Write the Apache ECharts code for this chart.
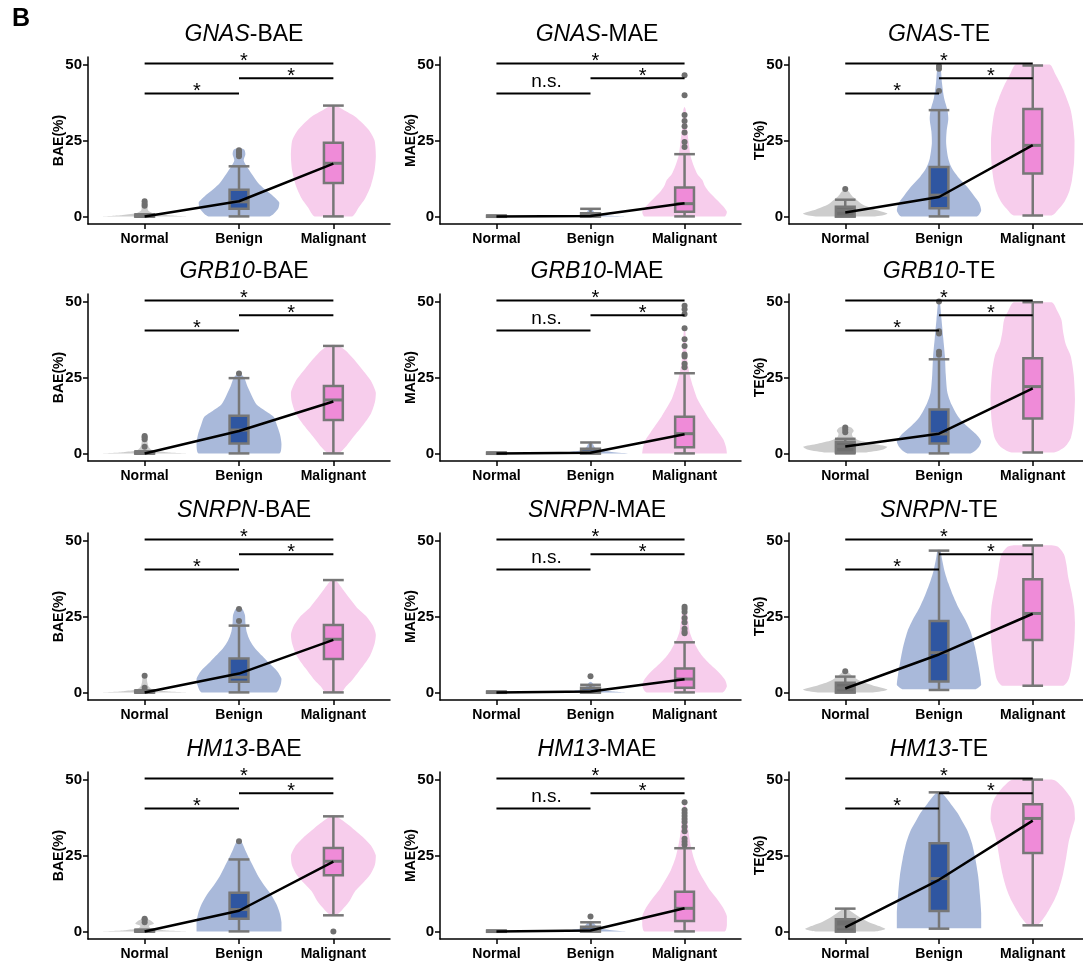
<!DOCTYPE html>
<html>
<head>
<meta charset="utf-8">
<script src="https://cdn.jsdelivr.net/npm/echarts@6/dist/echarts.min.js"></script>
<style>
  html, body { margin: 0; padding: 0; background: #fff; }
  #chart { width: 1083px; height: 965px; }
</style>
</head>
<body>
<div id="chart"></div>
<script>
// 组别 / 基因 / 指标
const groups = ['Normal', 'Benign', 'Malignant'];
const yTicks = [0, 25, 50];
const xTicks = [1, 2, 3];
// 显著性横线: [起点组, 终点组, 高度]
const bracketPairs = [[1, 2, 40.5], [2, 3, 45.5], [1, 3, 50.4]];
const sigBAE = ['*', '*', '*'];
const sigMAE = ['n.s.', '*', '*'];
const sigTE = ['*', '*', '*'];

// 箱线: [min, q1, median, q3, max]，均值，离群点，小提琴轮廓 [y, 相对半宽]
const GNAS_BAE_box = [[0, 0, 0, 0.3, 0.7], [0, 2.5, 4.8, 8.8, 16.5], [0, 11, 17.5, 24.3, 36.5]];
const GNAS_BAE_mean = [0, 5, 17.4];
const GNAS_BAE_out = [[3.5, 4.2, 5], [19.8, 20.5, 21.2, 21.8], []];
const GNAS_BAE_violin = [
  [[0, 1], [0.4, 0.55], [1, 0.2], [2, 0.08], [3.5, 0.07], [5, 0.05], [5.3, 0]],
  [[0, 0.72], [2.5, 0.92], [4.5, 0.95], [6.5, 0.82], [9, 0.6], [11, 0.45], [14, 0.3], [16.5, 0.18], [18.5, 0.11], [20.5, 0.15], [22, 0.12], [22.5, 0]],
  [[0, 0.44], [3, 0.6], [6, 0.75], [10, 0.88], [15, 0.97], [20, 1], [25, 0.97], [28, 0.86], [30.5, 0.7], [33, 0.5], [35, 0.25], [36.5, 0.06], [36.8, 0]]
];

const GNAS_MAE_box = [[0, 0, 0, 0.2, 0.3], [0, 0, 0.3, 1, 2.5], [0, 1.5, 4.2, 9.5, 20.5]];
const GNAS_MAE_mean = [0, 0.1, 4.3];
const GNAS_MAE_out = [[], [], [22.9, 24.5, 27.6, 29.7, 31.4, 33.4, 39.9, 46.5]];
const GNAS_MAE_violin = [
  [[0, 0.2], [0.2, 0.08], [0.4, 0]],
  [[0, 0.8], [0.3, 0.4], [0.8, 0.15], [1.5, 0.08], [2.5, 0.04], [2.8, 0]],
  [[0, 0.95], [1.5, 1], [3.5, 0.9], [5.5, 0.76], [8, 0.58], [10, 0.48], [12, 0.42], [14, 0.3], [16.5, 0.22], [20, 0.14], [24, 0.1], [30, 0.05], [35, 0.03], [36, 0]]
];

const GNAS_TE_box = [[0, 0, 2, 3.2, 5.5], [0, 2.7, 7, 16.3, 35], [0.3, 14.1, 23.4, 35.4, 49.7]];
const GNAS_TE_mean = [1.3, 6.4, 23.5];
const GNAS_TE_out = [[9], [41.3, 48.6, 49.5], []];
const GNAS_TE_violin = [
  [[0, 0.7], [0.9, 1], [2, 0.75], [3, 0.56], [4.2, 0.38], [5.3, 0.28], [6.5, 0.18], [7.5, 0.12], [8.5, 0.06], [9, 0]],
  [[0, 0.9], [2, 1], [4.5, 0.95], [7, 0.82], [10, 0.65], [13, 0.45], [16, 0.3], [19, 0.22], [24, 0.17], [28, 0.18], [32, 0.22], [35, 0.2], [39, 0.12], [44, 0.07], [49, 0.04], [50, 0]],
  [[0.3, 0.45], [2.5, 0.62], [5, 0.76], [8, 0.86], [12, 0.93], [18, 0.98], [25, 0.99], [31, 0.95], [35, 0.9], [39, 0.8], [43, 0.68], [47, 0.53], [50, 0.4]]
];

const GRB10_BAE_box = [[0, 0, 0, 0.3, 0.7], [0, 3.3, 7.7, 12.4, 24.8], [0, 11, 17.6, 22.2, 35.4]];
const GRB10_BAE_mean = [0, 7.4, 17.1];
const GRB10_BAE_out = [[2.2, 4.7, 5.3, 5.7], [26.3], []];
const GRB10_BAE_violin = [
  [[0, 1], [0.4, 0.5], [1, 0.18], [2, 0.1], [3.5, 0.07], [5, 0.06], [6, 0.03], [6.3, 0]],
  [[0, 0.95], [3, 1], [6, 0.97], [9, 0.9], [12, 0.82], [14, 0.62], [16, 0.42], [19, 0.3], [22, 0.2], [25, 0.12], [26.5, 0]],
  [[0, 0.12], [2, 0.28], [4.5, 0.42], [9, 0.68], [13, 0.88], [17, 0.98], [20, 1], [24, 0.88], [28, 0.66], [31.5, 0.45], [34, 0.28], [35.5, 0.1], [35.8, 0]]
];

const GRB10_MAE_box = [[0, 0, 0, 0.2, 0.3], [0, 0, 0.5, 1.5, 3.6], [0, 2, 6.5, 12.1, 26.4]];
const GRB10_MAE_mean = [0, 0.2, 6.3];
const GRB10_MAE_out = [[], [], [28.4, 29.5, 31.9, 32.6, 35.4, 37.6, 41.2, 45.9, 47.5, 48.6]];
const GRB10_MAE_violin = [
  [[0, 0.2], [0.2, 0.08], [0.4, 0]],
  [[0, 0.9], [0.5, 0.5], [1, 0.2], [2, 0.1], [3, 0.06], [4, 0]],
  [[0, 1], [2, 0.98], [4.5, 0.92], [7, 0.8], [9, 0.7], [12, 0.55], [15, 0.42], [18, 0.3], [22, 0.2], [26, 0.12], [30, 0.07], [35, 0.04], [40, 0.02], [42, 0]]
];

const GRB10_TE_box = [[0, 0.3, 2.3, 3.8, 4.8], [0, 3.3, 6.4, 14.5, 31], [0.3, 11.5, 22, 31.3, 49.8]];
const GRB10_TE_mean = [2.3, 6.5, 21.4];
const GRB10_TE_out = [[7, 7.8, 8.5], [32.5, 33.5, 39.5, 40.2, 50], []];
const GRB10_TE_violin = [
  [[0.3, 0.45], [1.3, 0.9], [2.2, 1], [3.2, 0.65], [4.3, 0.32], [5.5, 0.18], [6.5, 0.16], [7.5, 0.2], [8.5, 0.14], [9, 0]],
  [[0, 0.75], [2, 0.94], [4, 1], [6, 0.9], [9, 0.66], [12, 0.46], [16, 0.3], [20, 0.2], [26, 0.16], [32, 0.14], [38, 0.1], [44, 0.06], [50, 0.02], [50.5, 0]],
  [[0.3, 0.5], [2, 0.75], [5, 0.9], [10, 0.97], [18, 1], [26, 0.97], [32, 0.9], [36, 0.78], [40, 0.72], [44, 0.68], [47, 0.58], [49.8, 0.45]]
];

const SNRPN_BAE_box = [[0, 0, 0, 0.3, 0.7], [0, 3.5, 5, 11.2, 22], [0, 11, 17.5, 22.2, 37]];
const SNRPN_BAE_mean = [0, 6.2, 17.3];
const SNRPN_BAE_out = [[1.5, 5.5], [23.5, 27.5], []];
const SNRPN_BAE_violin = [
  [[0, 1], [0.4, 0.5], [1, 0.18], [2, 0.09], [3.5, 0.06], [5, 0.05], [6, 0.03], [6.2, 0]],
  [[0, 0.88], [2.5, 0.98], [4.5, 1], [7, 0.9], [9.5, 0.72], [12, 0.55], [14.5, 0.38], [17, 0.26], [20, 0.18], [23, 0.15], [25.5, 0.14], [27.5, 0.08], [28, 0]],
  [[0, 0.18], [2, 0.3], [4, 0.44], [8, 0.66], [12, 0.86], [16, 0.97], [19, 1], [22, 0.93], [25, 0.78], [28, 0.55], [31, 0.38], [34, 0.22], [36.5, 0.08], [37, 0]]
];

const SNRPN_MAE_box = [[0, 0, 0, 0.2, 0.3], [0, 0, 0.5, 1.5, 2.5], [0, 1.5, 4.4, 7.9, 16.5]];
const SNRPN_MAE_mean = [0, 0.3, 4.3];
const SNRPN_MAE_out = [[], [5.3], [19.5, 20, 21, 23, 24.5, 26.5, 27.5, 28.2]];
const SNRPN_MAE_violin = [
  [[0, 0.2], [0.2, 0.08], [0.4, 0]],
  [[0, 0.85], [0.5, 0.4], [1, 0.2], [2, 0.1], [3, 0.05], [3.5, 0]],
  [[0, 0.9], [2, 1], [4, 0.96], [6, 0.85], [8, 0.7], [10, 0.55], [12, 0.42], [14, 0.32], [17, 0.2], [20, 0.12], [24, 0.08], [28, 0.04], [28.5, 0]]
];

const SNRPN_TE_box = [[0, 0, 1.5, 3.2, 5.2], [0.8, 3.6, 13.1, 23.5, 46.7], [2.2, 17.3, 26, 37.3, 48.4]];
const SNRPN_TE_mean = [1.3, 12.5, 25.9];
const SNRPN_TE_out = [[7], [], []];
const SNRPN_TE_violin = [
  [[0, 0.65], [0.9, 1], [2, 0.72], [3, 0.5], [4.2, 0.3], [5.3, 0.18], [6.3, 0.1], [7, 0.05], [7.3, 0]],
  [[1, 0.85], [2.5, 1], [6, 0.97], [10, 0.92], [15, 0.85], [20, 0.75], [24, 0.62], [28, 0.46], [32, 0.33], [36, 0.22], [40, 0.13], [44, 0.07], [47, 0.03]],
  [[2.2, 0.72], [4, 0.84], [7, 0.9], [12, 0.95], [18, 0.99], [23, 1], [28, 0.98], [33, 0.92], [38, 0.84], [42, 0.8], [45.5, 0.74], [48, 0.6], [48.5, 0.45]]
];

const HM13_BAE_box = [[0, 0, 0, 0.3, 0.6], [0, 4.2, 7.2, 12.7, 23.7], [5.3, 18.5, 23.1, 27.5, 37.9]];
const HM13_BAE_mean = [0, 6.8, 23];
const HM13_BAE_out = [[3, 3.8, 4.2], [29.7], [0]];
const HM13_BAE_violin = [
  [[0, 1], [0.4, 0.45], [1, 0.15], [1.8, 0.1], [2.5, 0.22], [3.2, 0.18], [4, 0.08], [4.3, 0]],
  [[0, 1], [3, 1], [6, 0.96], [9, 0.88], [12, 0.76], [15, 0.6], [18, 0.46], [21, 0.35], [24, 0.24], [27, 0.14], [29.5, 0.06], [30, 0]],
  [[5.3, 0.06], [7, 0.2], [10, 0.38], [13, 0.5], [16, 0.7], [19, 0.88], [22, 0.98], [25, 1], [28, 0.9], [31, 0.7], [34, 0.45], [36.5, 0.22], [38, 0.06], [38.3, 0]]
];

const HM13_MAE_box = [[0, 0, 0, 0.2, 0.3], [0, 0, 0.5, 1.5, 3], [0, 3.4, 7.6, 13.1, 27.4]];
const HM13_MAE_mean = [0, 0.3, 7.6];
const HM13_MAE_out = [[], [4.9], [28.5, 29.5, 30.5, 33, 34.5, 36, 37, 38, 39, 40, 42.5]];
const HM13_MAE_violin = [
  [[0, 0.2], [0.2, 0.08], [0.4, 0]],
  [[0, 0.85], [0.5, 0.45], [1, 0.2], [2, 0.12], [3, 0.06], [3.5, 0]],
  [[0, 0.95], [2, 1], [5, 1], [8, 0.9], [11, 0.75], [14, 0.58], [17, 0.45], [20, 0.33], [24, 0.22], [28, 0.15], [32, 0.1], [36, 0.07], [40, 0.04], [42.5, 0]]
];

const HM13_TE_box = [[0, 0, 1.5, 4, 7.5], [0.9, 6.7, 17.4, 29, 45.8], [2, 25.8, 37.2, 41.9, 50]];
const HM13_TE_mean = [1.3, 17, 36.5];
const HM13_TE_out = [[], [], []];
const HM13_TE_violin = [
  [[0, 0.7], [0.8, 0.95], [2, 0.75], [3, 0.56], [4.5, 0.36], [6, 0.2], [7, 0.1], [7.5, 0]],
  [[1, 1], [6, 1], [12, 0.97], [18, 0.93], [24, 0.86], [29, 0.78], [33, 0.68], [36, 0.56], [39, 0.44], [42, 0.28], [44.5, 0.14], [45.8, 0.04]],
  [[2, 0.1], [4, 0.24], [7, 0.38], [10, 0.5], [14, 0.62], [19, 0.72], [25, 0.8], [30, 0.86], [34, 0.94], [37, 1], [41, 0.98], [44, 0.9], [47, 0.74], [49.5, 0.55], [50, 0.45]]
];

// 面板顺序（按行）
const panels = [
  { gene: 'GNAS', measure: 'BAE', sig: sigBAE, box: GNAS_BAE_box, mean: GNAS_BAE_mean, out: GNAS_BAE_out, violin: GNAS_BAE_violin },
  { gene: 'GNAS', measure: 'MAE', sig: sigMAE, box: GNAS_MAE_box, mean: GNAS_MAE_mean, out: GNAS_MAE_out, violin: GNAS_MAE_violin },
  { gene: 'GNAS', measure: 'TE', sig: sigTE, box: GNAS_TE_box, mean: GNAS_TE_mean, out: GNAS_TE_out, violin: GNAS_TE_violin },
  { gene: 'GRB10', measure: 'BAE', sig: sigBAE, box: GRB10_BAE_box, mean: GRB10_BAE_mean, out: GRB10_BAE_out, violin: GRB10_BAE_violin },
  { gene: 'GRB10', measure: 'MAE', sig: sigMAE, box: GRB10_MAE_box, mean: GRB10_MAE_mean, out: GRB10_MAE_out, violin: GRB10_MAE_violin },
  { gene: 'GRB10', measure: 'TE', sig: sigTE, box: GRB10_TE_box, mean: GRB10_TE_mean, out: GRB10_TE_out, violin: GRB10_TE_violin },
  { gene: 'SNRPN', measure: 'BAE', sig: sigBAE, box: SNRPN_BAE_box, mean: SNRPN_BAE_mean, out: SNRPN_BAE_out, violin: SNRPN_BAE_violin },
  { gene: 'SNRPN', measure: 'MAE', sig: sigMAE, box: SNRPN_MAE_box, mean: SNRPN_MAE_mean, out: SNRPN_MAE_out, violin: SNRPN_MAE_violin },
  { gene: 'SNRPN', measure: 'TE', sig: sigTE, box: SNRPN_TE_box, mean: SNRPN_TE_mean, out: SNRPN_TE_out, violin: SNRPN_TE_violin },
  { gene: 'HM13', measure: 'BAE', sig: sigBAE, box: HM13_BAE_box, mean: HM13_BAE_mean, out: HM13_BAE_out, violin: HM13_BAE_violin },
  { gene: 'HM13', measure: 'MAE', sig: sigMAE, box: HM13_MAE_box, mean: HM13_MAE_mean, out: HM13_MAE_out, violin: HM13_MAE_violin },
  { gene: 'HM13', measure: 'TE', sig: sigTE, box: HM13_TE_box, mean: HM13_TE_mean, out: HM13_TE_out, violin: HM13_TE_violin }
];

// 样式与布局
const FONT = '"Liberation Sans", Arial, sans-serif';
const violinColors = ['#cdcdcd', '#a9b9da', '#f7cdec'];
const boxColors = ['#6e6e6e', '#2f56a1', '#ef8bd8'];
const boxLine = '#777777';
const VIOLIN_HALF = 0.45;
const BOX_W = 0.2;
const CAP_W = 0.22;
const colLeft = [88, 440, 789];
const colWidth = [302, 301, 300];
const rowTop = [57, 294, 533, 772];
const PLOT_H = 167;
const titleX = [244, 597, 939];

const grid = [], xAxis = [], yAxis = [], series = [], title = [];

panels.forEach((p, i) => {
  const r = Math.floor(i / 3), c = i % 3;
  grid.push({ left: colLeft[c], top: rowTop[r], width: colWidth[c], height: PLOT_H, containLabel: false, outerBoundsMode: 'none' });

  xAxis.push({
    gridIndex: i, type: 'value', min: 0.4, max: 3.6,
    splitLine: { show: false },
    axisLine: { show: true, onZero: false, lineStyle: { color: '#000', width: 1.5 } },
    axisTick: { show: true, customValues: xTicks, length: 5, lineStyle: { color: '#000', width: 1.5 } },
    axisLabel: {
      customValues: xTicks, formatter: v => groups[Math.round(v) - 1],
      color: '#000', fontWeight: 'bold', fontSize: 14, fontFamily: FONT, margin: 8
    }
  });

  yAxis.push({
    gridIndex: i, type: 'value', min: -2.5, max: 52.5,
    name: p.measure + '(%)', nameLocation: 'middle', nameGap: 22, nameMoveOverlap: false,
    nameTextStyle: { color: '#000', fontWeight: 'bold', fontSize: 14, fontFamily: FONT },
    splitLine: { show: false },
    axisLine: { show: true, onZero: false, lineStyle: { color: '#000', width: 1.5 } },
    axisTick: { show: true, customValues: yTicks, length: 5, lineStyle: { color: '#000', width: 1.5 } },
    axisLabel: { customValues: yTicks, color: '#000', fontWeight: 'bold', fontSize: 15, fontFamily: FONT, margin: 6 }
  });

  title.push({
    text: `{i|${p.gene}}-${p.measure}`,
    left: titleX[c], top: rowTop[r] - 34, textAlign: 'center', padding: 0,
    textStyle: {
      fontSize: 23, fontWeight: 'normal', color: '#000', fontFamily: FONT,
      rich: { i: { fontStyle: 'italic', fontSize: 23, color: '#000', fontFamily: FONT } }
    }
  });

  // 小提琴
  series.push({
    type: 'custom', xAxisIndex: i, yAxisIndex: i, z: 1, silent: true,
    data: groups.map((g, k) => [k + 1, 0]),
    encode: { x: 0, y: 1 },
    renderItem: (params, api) => {
      const k = params.dataIndex, cx = k + 1, prof = p.violin[k];
      const pts = prof.map(([y, w]) => api.coord([cx - w * VIOLIN_HALF, y]));
      for (let j = prof.length - 1; j >= 0; j--) {
        const [y, w] = prof[j];
        if (w > 0) pts.push(api.coord([cx + w * VIOLIN_HALF, y]));
      }
      const xs = pts.map(q => q[0]), ys = pts.map(q => q[1]);
      return {
        type: 'polygon',
        shape: {
          points: pts, smooth: 0.25,
          smoothConstraint: [[Math.min(...xs), Math.min(...ys)], [Math.max(...xs), Math.max(...ys)]]
        },
        style: { fill: violinColors[k] }
      };
    }
  });

  // 箱线
  series.push({
    type: 'custom', xAxisIndex: i, yAxisIndex: i, z: 2, silent: true,
    data: p.box.map((b, k) => [k + 1].concat(b)),
    encode: { x: 0, y: [1, 2, 3, 4, 5] },
    renderItem: (params, api) => {
      const k = params.dataIndex, cx = api.value(0);
      const [mn, q1, md, q3, mx] = [1, 2, 3, 4, 5].map(d => api.value(d));
      const seg = (x1, y1, x2, y2, w) => {
        const a = api.coord([x1, y1]), b = api.coord([x2, y2]);
        return { type: 'line', shape: { x1: a[0], y1: a[1], x2: b[0], y2: b[1] }, style: { stroke: boxLine, lineWidth: w || 2.5 } };
      };
      const tl = api.coord([cx - BOX_W / 2, q3]), br = api.coord([cx + BOX_W / 2, q1]);
      return {
        type: 'group',
        children: [
          seg(cx, mn, cx, q1), seg(cx, q3, cx, mx),
          seg(cx - CAP_W / 2, mn, cx + CAP_W / 2, mn), seg(cx - CAP_W / 2, mx, cx + CAP_W / 2, mx),
          { type: 'rect', shape: { x: tl[0], y: tl[1], width: br[0] - tl[0], height: Math.max(br[1] - tl[1], 1) },
            style: { fill: boxColors[k], stroke: boxLine, lineWidth: 2.5 } },
          seg(cx - BOX_W / 2, md, cx + BOX_W / 2, md, 3)
        ]
      };
    }
  });

  // 离群点
  series.push({
    type: 'scatter', xAxisIndex: i, yAxisIndex: i, z: 3, silent: true,
    symbolSize: 6, itemStyle: { color: '#6f6f6f', opacity: 1 },
    data: p.out.flatMap((vals, k) => vals.map(v => [k + 1, v]))
  });

  // 均值连线
  series.push({
    type: 'line', xAxisIndex: i, yAxisIndex: i, z: 4, silent: true,
    symbol: 'none', lineStyle: { color: '#000', width: 2.5 },
    data: p.mean.map((m, k) => [k + 1, m])
  });

  // 显著性标注
  series.push({
    type: 'custom', xAxisIndex: i, yAxisIndex: i, z: 5, silent: true,
    data: bracketPairs.map(b => [b[0], b[2], b[1]]),
    encode: { x: [0, 2], y: 1 },
    renderItem: (params, api) => {
      const a = api.coord([api.value(0), api.value(1)]);
      const b = api.coord([api.value(2), api.value(1)]);
      const label = p.sig[params.dataIndex];
      const ns = label === 'n.s.';
      return {
        type: 'group',
        children: [
          { type: 'line', shape: { x1: a[0], y1: a[1], x2: b[0], y2: b[1] }, style: { stroke: '#000', lineWidth: 2 } },
          { type: 'text', x: (a[0] + b[0]) / 2 + (ns ? 3 : 5), y: a[1] - (ns ? 11.5 : 2),
            style: { text: label, fill: '#000', font: (ns ? '19px ' : '20px ') + FONT,
                     align: 'center', verticalAlign: 'middle', textAlign: 'center', textVerticalAlign: 'middle' } }
        ]
      };
    }
  });
});

const chart = echarts.init(document.getElementById('chart'));
chart.setOption({
  animation: false,
  backgroundColor: '#fff',
  title,
  grid,
  xAxis,
  yAxis,
  series,
  graphic: [{ type: 'text', left: 12, top: 7, style: { text: 'B', font: 'bold 25px ' + FONT, fill: '#000' } }]
});
</script>
</body>
</html>
